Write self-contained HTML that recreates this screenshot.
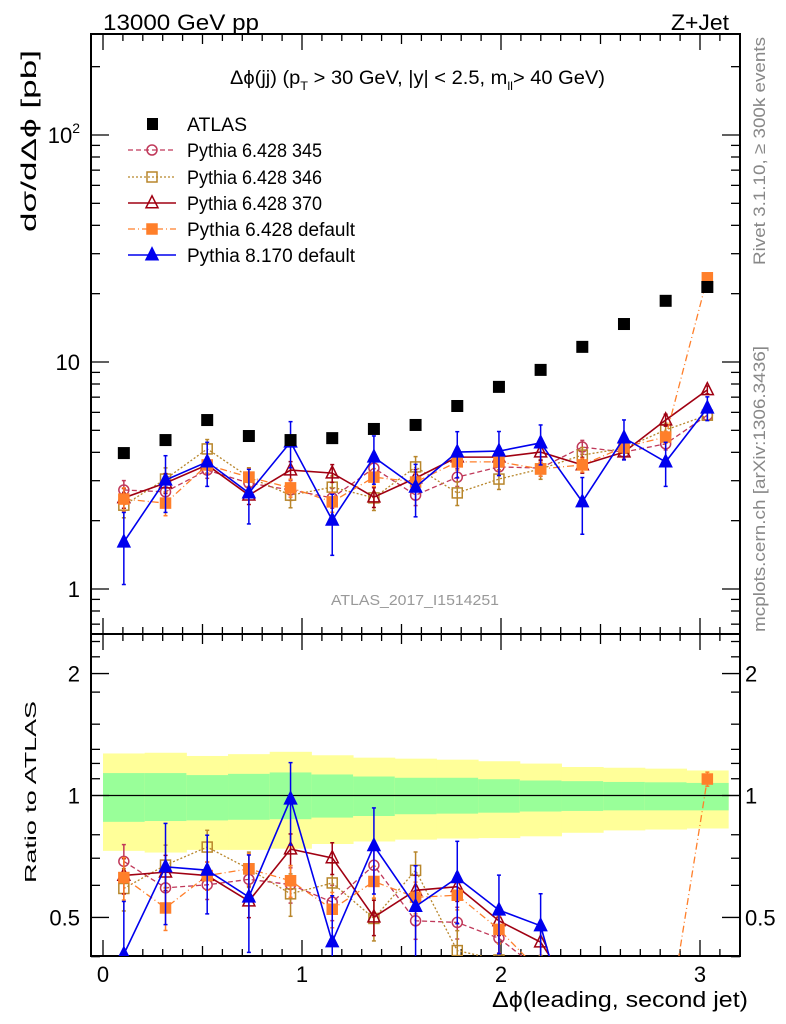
<!DOCTYPE html>
<html><head><meta charset="utf-8"><style>
html,body{margin:0;padding:0;background:#fff;overflow:hidden;width:786px;height:1024px;}
svg{display:block;font-family:"Liberation Sans",sans-serif;}
</style></head><body>
<svg id="chart" width="786" height="1024" viewBox="0 0 786 1024" xmlns="http://www.w3.org/2000/svg">
<defs>
<clipPath id="clipMain"><rect x="91" y="34" width="649" height="600"/></clipPath>
<clipPath id="clipRatio"><rect x="91" y="634" width="649" height="322"/></clipPath>
</defs>
<text x="103" y="30" font-size="22" textLength="156" lengthAdjust="spacingAndGlyphs">13000 GeV pp</text>
<text x="671" y="30" font-size="22" textLength="58" lengthAdjust="spacingAndGlyphs">Z+Jet</text>
<text x="230" y="84" font-size="19" textLength="375" lengthAdjust="spacingAndGlyphs">Δϕ(jj) (p<tspan font-size="12" dy="6">T</tspan><tspan dy="-6"> &gt; 30 GeV, |y| &lt; 2.5, m</tspan><tspan font-size="12" dy="6">ll</tspan><tspan dy="-6">&gt; 40 GeV)</tspan></text>
<text transform="translate(36,232) rotate(-90)" font-size="21" textLength="182" lengthAdjust="spacingAndGlyphs">dσ/dΔϕ [pb]</text>
<text transform="translate(36,883) rotate(-90)" font-size="16" textLength="182" lengthAdjust="spacingAndGlyphs">Ratio to ATLAS</text>
<text transform="translate(765,265) rotate(-90)" font-size="17" fill="#888" textLength="228" lengthAdjust="spacingAndGlyphs">Rivet 3.1.10, ≥ 300k events</text>
<text transform="translate(765,632) rotate(-90)" font-size="17" fill="#888" textLength="286" lengthAdjust="spacingAndGlyphs">mcplots.cern.ch [arXiv:1306.3436]</text>
<text x="331" y="605" font-size="15" fill="#999" textLength="168" lengthAdjust="spacingAndGlyphs">ATLAS_2017_I1514251</text>
<text x="492" y="1007" font-size="22" textLength="256" lengthAdjust="spacingAndGlyphs">Δϕ(leading, second jet)</text>
<g id="bands" clip-path="url(#clipRatio)"></g>
<g id="axes"></g>
<g id="mainData" clip-path="url(#clipMain)"></g>
<g id="ratioData" clip-path="url(#clipRatio)"></g>
<g id="legend"></g>
</svg>
<script>
const NS="http://www.w3.org/2000/svg";
const nBins=15;
const dataVals=[3.97,4.53,5.55,4.72,4.53,4.62,5.07,5.28,6.40,7.77,9.23,11.66,14.7,18.6,21.4];
const bandYellowUp=[1.270,1.275,1.252,1.265,1.282,1.257,1.240,1.233,1.226,1.215,1.199,1.176,1.171,1.165,1.153];
const bandYellowDn=[0.730,0.723,0.734,0.734,0.739,0.759,0.770,0.778,0.783,0.785,0.793,0.809,0.820,0.824,0.829];
const bandGreenUp=[1.136,1.136,1.123,1.131,1.140,1.127,1.114,1.106,1.106,1.097,1.089,1.085,1.080,1.078,1.074];
const bandGreenDn=[0.861,0.865,0.868,0.871,0.874,0.882,0.890,0.899,0.902,0.907,0.913,0.916,0.919,0.919,0.919];
const py345=[2.73,2.68,3.34,2.93,2.73,2.52,3.41,2.59,3.11,3.45,3.41,4.22,4.01,4.36,5.83];
const py346=[2.34,3.05,4.14,3.11,2.59,2.81,2.52,3.45,2.65,3.05,3.38,3.89,4.17,5.02,5.83];
const py370=[2.52,2.93,3.52,2.59,3.34,3.24,2.54,3.08,3.81,3.81,4.01,3.52,4.01,5.55,7.54];
const py6def=[2.49,2.39,3.52,3.11,2.79,2.42,3.11,2.96,3.63,3.63,3.38,3.52,4.22,4.67,23.5];
const py8def=[1.61,3.02,3.63,2.65,4.44,2.01,3.81,2.81,4.01,4.05,4.40,2.42,4.63,3.63,6.27];
const err345=[0.1,0.1,0.08,0.08,0.1,0.1,0.09,0.1,0.09,0.08,0.08,0.07,0.07,0.06,0.05];
const err346=[0.12,0.12,0.1,0.1,0.12,0.12,0.12,0.11,0.12,0.1,0.1,0.08,0.08,0.07,0.05];
const err370=[0.1,0.1,0.08,0.09,0.09,0.09,0.1,0.09,0.08,0.08,0.08,0.08,0.07,0.06,0.04];
const err6def=[0.12,0.12,0.08,0.09,0.09,0.1,0.09,0.09,0.08,0.08,0.07,0.07,0.06,0.06,0.04];
const err8def=[0.35,0.28,0.22,0.27,0.23,0.3,0.24,0.26,0.23,0.22,0.2,0.28,0.2,0.22,0.12];
const seriesNames=["Pythia 6.428 345","Pythia 6.428 346","Pythia 6.428 370","Pythia 6.428 default","Pythia 8.170 default"];

const X=v=>103+199*v;
const Y=v=>589-227*Math.log10(v);
const R=v=>795.5-405*Math.log10(v);
const binW=Math.PI/nBins;
const center=i=>(i+0.5)*binW;

function el(tag,attrs,parent){const e=document.createElementNS(NS,tag);for(const k in attrs)e.setAttribute(k,attrs[k]);parent.appendChild(e);return e;}
const axes=document.getElementById('axes');
const bands=document.getElementById('bands');
const mainG=document.getElementById('mainData');
const ratioG=document.getElementById('ratioData');
const legG=document.getElementById('legend');

for(let i=0;i<nBins;i++){
  const x0=X(i*binW),x1=X((i+1)*binW);
  const y=el('rect',{x:x0,y:R(bandYellowUp[i]),width:x1-x0+0.5,height:R(bandYellowDn[i])-R(bandYellowUp[i]),fill:'#ffff99'},bands);
  
  
  const g=el('rect',{x:x0,y:R(bandGreenUp[i]),width:x1-x0+0.5,height:R(bandGreenDn[i])-R(bandGreenUp[i]),fill:'#99ff99'},bands);
  
  
}
const one=el('line',{x1:91,x2:740,y1:R(1),y2:R(1),stroke:'#000','stroke-width':1.3},bands);



const f1=el('rect',{x:91,y:34,width:649,height:600,fill:'none',stroke:'#000','stroke-width':2},axes);


const f2=el('rect',{x:91,y:634,width:649,height:322,fill:'none',stroke:'#000','stroke-width':2},axes);



function tick(x1,y1,x2,y2){const t=el('line',{x1,y1,x2,y2,stroke:'#000','stroke-width':1.3},axes);}
for(let k=0;k<=31;k++){
  const v=k/10,x=X(v);if(x>739)break;
  const L=(k%10==0)?16:(k%5==0?10:7);
  tick(x,34,x,34+L);tick(x,634,x,634-L);tick(x,634,x,634+L);tick(x,956,x,956-L);
}
for(let d=-1;d<=2;d++)for(let m=1;m<=9;m++){
  const v=m*Math.pow(10,d),y=Y(v);if(y<35||y>633)continue;
  const L=m==1?18:9;tick(91,y,91+L,y);tick(740,y,740-L,y);
}
const rTicks=[0.4,0.5,0.6,0.7,0.8,1,1.1,1.2,1.3,1.5,1.8,2,2.2,2.4];
rTicks.forEach(v=>{const y=R(v);const L=(v==0.5||v==1||v==2)?18:9;tick(91,y,91+L,y);tick(740,y,740-L,y);});
const xl=['0','1','2','3'];
xl.forEach((s,i)=>{const t=el('text',{x:X(i),y:982,'font-size':22,'text-anchor':'middle'},axes);t.textContent=s;});
const yl=[[1,'1'],[10,'10']];
yl.forEach(([v,s])=>{const t=el('text',{x:80,y:Y(v)+8,'font-size':22,'text-anchor':'end'},axes);t.textContent=s;});
{const t=el('text',{x:80,y:Y(100)+8,'font-size':22,'text-anchor':'end'},axes);t.innerHTML='10<tspan font-size="14" dy="-10">2</tspan>';}
const rl=[[0.5,'0.5'],[1,'1'],[2,'2']];
rl.forEach(([v,s])=>{
  const a=el('text',{x:80,y:R(v)+8,'font-size':22,'text-anchor':'end'},axes);a.textContent=s;
  const b=el('text',{x:745,y:R(v)+8,'font-size':22},axes);b.textContent=s;
});

const styles=[
 {c:'#c0395a',dash:'5,3',m:'circle',fill:false,w:1.3},
 {c:'#b8862b',dash:'2,2',m:'square',fill:false,w:1.3},
 {c:'#a00012',dash:'',m:'tri',fill:false,w:1.6},
 {c:'#ff7f2a',dash:'7,3,1,3',m:'square',fill:true,w:1.3},
 {c:'#0000ee',dash:'',m:'tri',fill:true,w:1.6}];
const series=[py345,py346,py370,py6def,py8def];
const errs=[err345,err346,err370,err6def,err8def];

function marker(g,type,fill,c,x,y,s){
  let e;
  if(type=='circle')e=el('circle',{cx:x,cy:y,r:s*0.5},g);
  else if(type=='square')e=el('rect',{x:x-s/2,y:y-s/2,width:s,height:s},g);
  else e=el('polygon',{points:`${x},${y-s*0.6} ${x-s*0.5},${y+s*0.4} ${x+s*0.5},${y+s*0.4}`},g);
  e.setAttribute('fill',fill?c:'#fff');e.setAttribute('fill-opacity',fill?1:0);e.setAttribute('stroke',c);e.setAttribute('stroke-width',1.5);
  return e;
}

function drawSeries(g,vals,er,st,name,yf,isRatio){
  const pts=vals.map((v,i)=>{const r=isRatio?v/dataVals[i]:v;return [X(center(i)),yf(r),r];});
  const line=el('polyline',{points:pts.map(p=>p[0]+','+p[1]).join(' '),fill:'none',stroke:st.c,'stroke-width':st.w,'stroke-dasharray':st.dash},g);
  
  
  pts.forEach((p,i)=>{
    const e=p[2]*er[i];
    const b=el('line',{x1:p[0],x2:p[0],y1:yf(p[2]+e),y2:yf(Math.max(p[2]-e,1e-3)),stroke:st.c,'stroke-width':1.5},g);
    
    
    [p[2]+e,Math.max(p[2]-e,1e-3)].forEach(v=>{el('line',{x1:p[0]-2,x2:p[0]+2,y1:yf(v),y2:yf(v),stroke:st.c,'stroke-width':1.5},g);});
    const m=marker(g,st.m,st.fill,st.c,p[0],p[1],st.m=='tri'?12:10);
    
    
  });
}
series.forEach((s,k)=>{
  const nm='pythia-series-'+k;
  drawSeries(mainG,s,errs[k],styles[k],nm,Y,false);
  drawSeries(ratioG,s,errs[k],styles[k],nm+'-ratio',R,true);
});
dataVals.forEach((v,i)=>{
  const r=el('rect',{x:X(center(i))-6,y:Y(v)-6,width:12,height:12,fill:'#000'},mainG);
  
  
});

const legY=[124,150,177,203,229,255];
const legW=[60,135,135,135,168,168];
{const r=el('rect',{x:147,y:legY[0]-6,width:11,height:12,fill:'#000'},legG);
 const t=el('text',{x:187,y:legY[0]+7,'font-size':19,textLength:legW[0],lengthAdjust:'spacingAndGlyphs'},legG);t.textContent='ATLAS';}
seriesNames.forEach((n,k)=>{
  const y=legY[k+1],st=styles[k];
  const l=el('line',{x1:128,x2:176,y1:y,y2:y,stroke:st.c,'stroke-width':st.w,'stroke-dasharray':st.dash},legG);
  
  
  marker(legG,st.m,st.fill,st.c,152,y,st.m=='tri'?12:10);
  const t=el('text',{x:187,y:y+7,'font-size':19,textLength:legW[k+1],lengthAdjust:'spacingAndGlyphs'},legG);t.textContent=n;
  
  
});
</script>
</body></html>
